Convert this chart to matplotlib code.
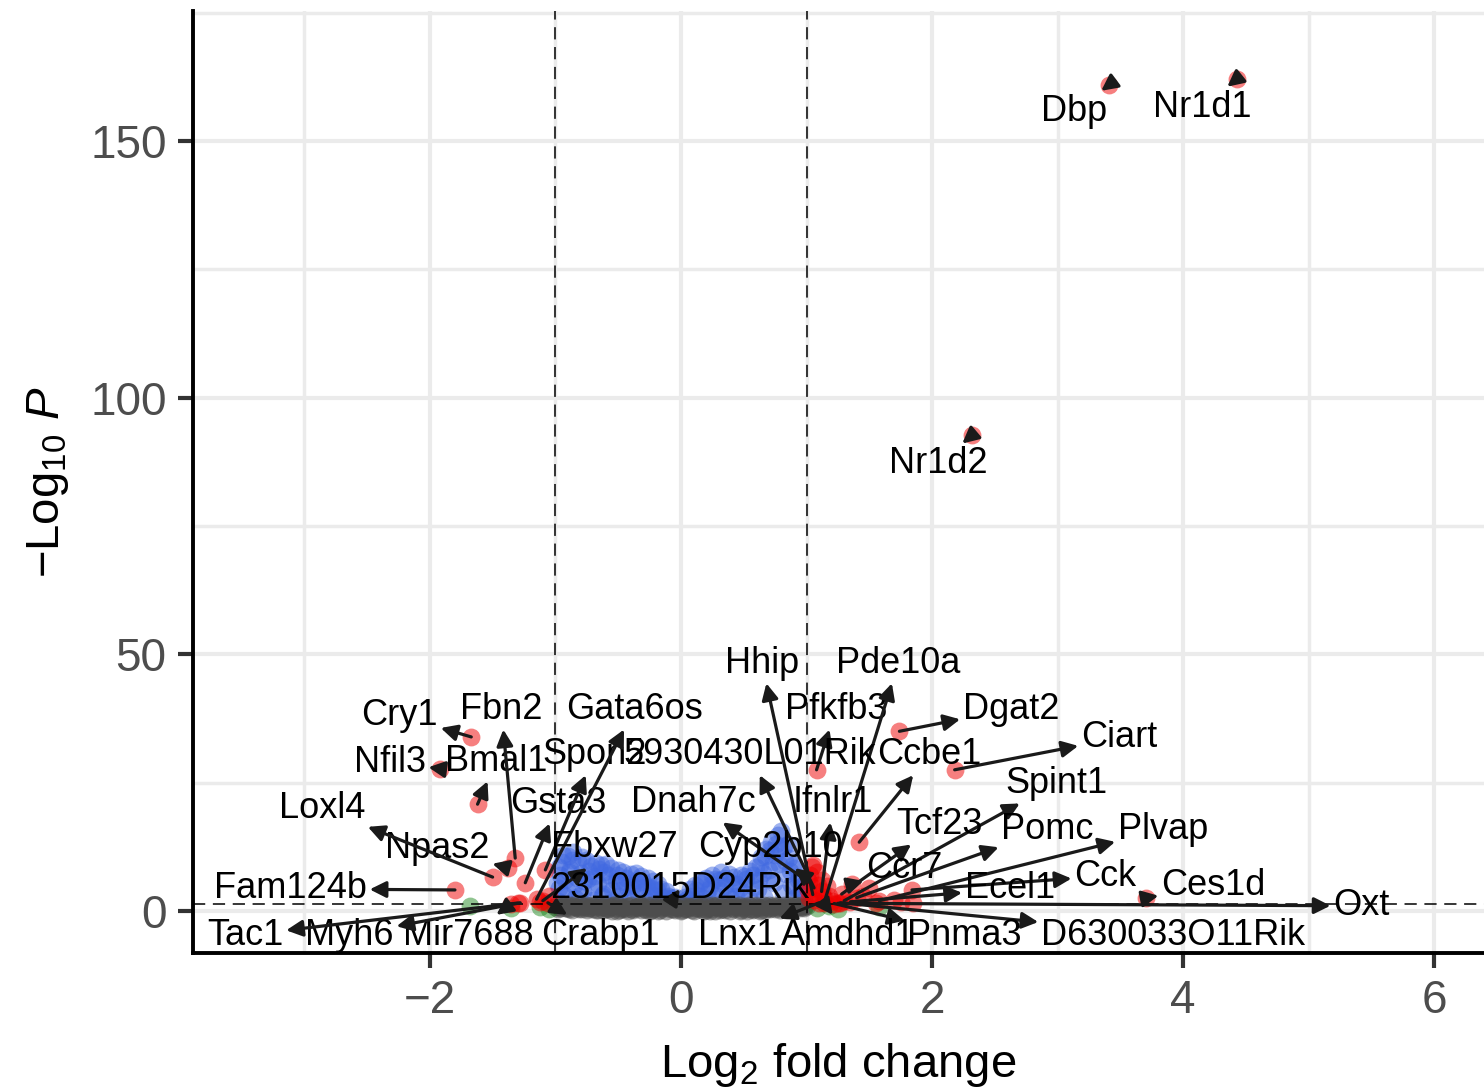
"""
Volcano plot: Log2 fold change vs -Log10 P (EnhancedVolcano style)
"""

import numpy as np
import matplotlib
matplotlib.use("Agg")
import matplotlib.pyplot as plt

plt.rcParams["font.family"] = ["Liberation Sans", "DejaVu Sans"]
plt.rcParams["mathtext.fontset"] = "custom"
plt.rcParams["mathtext.rm"] = "Liberation Sans"
plt.rcParams["mathtext.it"] = "Liberation Sans:italic"

FC_CUTOFF = 1.0
P_CUTOFF = 0.05

# labelled genes: log2 fold change and -log10 p
genes = ["Nr1d1", "Dbp", "Nr1d2", "Dgat2", "Cry1", "Ciart", "Pfkfb3", "Nfil3",
         "Bmal1", "Ccbe1", "Fbn2", "Npas2", "Loxl4", "Fam124b", "Gsta3", "Spon2",
         "Gata6os", "Fbxw27", "Crabp1", "Mir7688", "Myh6", "Tac1", "2310015D24Rik",
         "Hhip", "Pde10a", "5930430L01Rik", "Dnah7c", "Ifnlr1", "Cyp2b10", "Spint1",
         "Tcf23", "Ccr7", "Pomc", "Plvap", "Cck", "Ecel1", "Ces1d", "Oxt",
         "D630033O11Rik", "Pnma3", "Amdhd1", "Lnx1"]
gene_lfc = [4.43, 3.41, 2.32, 1.74, -1.67, 2.18, 1.08, -1.92,
            -1.62, 1.42, -1.32, -1.38, -1.50, -1.80, -1.24, -1.08,
            -1.15, -1.10, -1.06, -1.35, -1.30, -1.28, -0.05,
            1.05, 1.15, 1.06, 1.02, 1.12, 1.00, 1.30,
            1.28, 1.36, 1.40, 1.58, 1.84, 1.35, 3.70, 1.25,
            1.27, 1.22, 1.14, 1.10]
gene_p = [162.1, 160.9, 92.7, 35.0, 33.9, 27.5, 27.5, 27.7,
          20.8, 13.4, 10.3, 8.4, 6.6, 4.1, 5.5, 8.0,
          2.3, 2.0, 1.6, 1.4, 1.5, 1.6, 2.8,
          3.2, 2.4, 4.5, 5.6, 3.8, 6.5, 2.0,
          3.3, 5.2, 2.6, 2.0, 4.1, 1.8, 2.5, 1.5,
          1.6, 1.45, 1.5, 1.6]

# label placement (data coordinates), as laid out by the repel step
label_pos = {
    "Nr1d1": (4.15, 156.6), "Dbp": (3.13, 155.8), "Nr1d2": (2.05, 87.1),
    "Hhip": (0.645, 48.3), "Pde10a": (1.73, 48.3), "Pfkfb3": (1.235, 39.3),
    "Dgat2": (2.63, 39.3), "Ciart": (3.49, 33.7), "Ccbe1": (1.98, 30.4),
    "5930430L01Rik": (0.55, 30.4), "Spint1": (2.99, 24.9), "Ifnlr1": (1.21, 21.2),
    "Dnah7c": (0.10, 21.2), "Tcf23": (2.06, 16.9), "Pomc": (2.92, 15.8),
    "Plvap": (3.84, 15.8), "Cyp2b10": (0.71, 12.3), "Ccr7": (1.78, 8.2),
    "Cck": (3.38, 6.8), "Ecel1": (2.62, 4.3), "Ces1d": (4.24, 5.0),
    "Oxt": (5.42, 1.0), "D630033O11Rik": (3.92, -4.7), "Pnma3": (2.26, -4.7),
    "Amdhd1": (1.33, -4.7), "Lnx1": (0.45, -4.7), "Crabp1": (-0.645, -4.7),
    "Mir7688": (-1.69, -4.7), "Myh6": (-2.64, -4.7), "Tac1": (-3.47, -4.7),
    "Fam124b": (-3.11, 4.3), "2310015D24Rik": (-0.01, 4.3), "Fbxw27": (-0.53, 12.3),
    "Npas2": (-1.94, 12.1), "Loxl4": (-2.86, 20.0), "Gsta3": (-0.98, 21.0),
    "Nfil3": (-2.32, 29.0), "Bmal1": (-1.47, 29.2), "Spon2": (-0.69, 30.4),
    "Cry1": (-2.24, 38.0), "Fbn2": (-1.43, 39.3), "Gata6os": (-0.37, 39.3),
}

# unlabelled genes, not significant (grey band)
grey_lfc = [
    -1.00, -0.98, -0.95, -0.92, -0.90, -0.87, -0.85, -0.82, -0.80, -0.77, -0.75,
    -0.72, -0.70, -0.67, -0.65, -0.62, -0.60, -0.57, -0.55, -0.52, -0.50, -0.47,
    -0.45, -0.42, -0.40, -0.37, -0.35, -0.32, -0.30, -0.27, -0.25, -0.22, -0.20,
    -0.17, -0.15, -0.12, -0.10, -0.07, -0.05, -0.02, 0.00, 0.02, 0.05, 0.07,
    0.10, 0.12, 0.15, 0.17, 0.20, 0.22, 0.25, 0.27, 0.30, 0.32, 0.35, 0.37,
    0.40, 0.42, 0.45, 0.47, 0.50, 0.52, 0.55, 0.57, 0.60, 0.62, 0.65, 0.67,
    0.70, 0.72, 0.75, 0.77, 0.80, 0.82, 0.85, 0.87, 0.90, 0.92, 0.95, 0.97, 1.00,
    -0.99, -0.96, -0.93, -0.89, -0.86, -0.83, -0.79, -0.76, -0.73, -0.69,
    -0.66, -0.63, -0.59, -0.56, -0.53, -0.49, -0.46, -0.43, -0.39, -0.36,
    -0.33, -0.29, -0.26, -0.23, -0.19, -0.16, -0.13, -0.09, -0.06, -0.03,
    0.01, 0.04, 0.08, 0.11, 0.14, 0.18, 0.21, 0.24, 0.28, 0.31,
    0.34, 0.38, 0.41, 0.44, 0.48, 0.51, 0.54, 0.58, 0.61, 0.64,
    0.68, 0.71, 0.74, 0.78, 0.81, 0.84, 0.88, 0.91, 0.94, 0.98,
    -0.97, -0.94, -0.91, -0.88, -0.84, -0.81, -0.78, -0.74, -0.71, -0.68,
    -0.64, -0.61, -0.58, -0.54, -0.51, -0.48, -0.44, -0.41, -0.38, -0.34,
    -0.31, -0.28, -0.24, -0.21, -0.18, -0.14, -0.11, -0.08, -0.04, -0.01,
    0.03, 0.06, 0.09, 0.13, 0.16, 0.19, 0.23, 0.26, 0.29, 0.33,
    0.36, 0.39, 0.43, 0.46, 0.49, 0.53, 0.56, 0.59, 0.63, 0.66,
    0.69, 0.73, 0.76, 0.79, 0.83, 0.86, 0.89, 0.93, 0.96, 0.99,
]
grey_p = [
    0.8, 0.3, 1.2, 0.6, 0.9, 0.2, 1.0, 0.5, 1.2, 0.7, 0.1,
    1.0, 0.4, 0.8, 1.2, 0.2, 0.6, 1.0, 0.0, 0.5, 1.1, 0.3,
    0.8, 0.0, 1.2, 0.5, 0.9, 0.1, 0.7, 1.1, 0.0, 0.4, 0.9,
    0.2, 1.2, 0.0, 0.6, 1.0, 0.1, 0.5, 0.0, 1.1, 0.3, 0.8,
    0.0, 1.2, 0.4, 0.9, 0.1, 0.6, 1.1, 0.0, 0.5, 1.0, 0.2, 0.8,
    1.2, 0.3, 0.7, 0.0, 1.0, 0.4, 0.9, 0.1, 1.2, 0.5, 0.8, 0.2,
    1.1, 0.6, 0.3, 1.0, 0.7, 1.2, 0.4, 0.9, 0.6, 1.1, 0.5, 0.8, 1.0,
    1.1, 0.5, 0.9, 0.4, 1.2, 0.7, 0.3, 1.1, 0.6, 0.9,
    0.2, 1.0, 0.4, 0.8, 1.2, 0.2, 0.6, 1.0, 0.3, 0.7,
    1.2, 0.4, 0.8, 0.1, 1.0, 0.5, 0.7, 1.1, 0.3, 0.8,
    0.2, 0.6, 1.0, 0.5, 0.8, 0.0, 1.1, 0.3, 0.8, 0.2,
    0.6, 1.0, 0.5, 0.9, 0.2, 0.7, 1.2, 0.3, 0.8, 0.1,
    0.9, 0.4, 1.2, 0.5, 0.9, 0.2, 0.7, 1.0, 0.8, 0.6,
    0.7, 1.0, 0.5, 1.2, 0.8, 0.3, 0.9, 0.6, 1.2, 0.2,
    0.7, 0.9, 0.3, 1.1, 0.0, 0.8, 0.4, 1.0, 0.1, 0.6,
    0.9, 0.2, 1.2, 0.5, 0.0, 0.8, 1.1, 0.3, 0.7, 1.2,
    0.4, 0.9, 0.2, 0.6, 1.2, 0.4, 0.0, 0.9, 1.2, 0.4,
    1.1, 0.0, 0.7, 1.1, 0.5, 0.0, 0.4, 1.0, 0.0, 1.1,
    0.5, 0.8, 1.0, 0.2, 0.6, 1.1, 0.4, 0.8, 1.2, 0.9,
]

# unlabelled genes, significant p but small fold change
blue_lfc = [
    -0.98, -0.97, -0.96, -0.95, -0.93, -0.92, -0.90, -0.88, -0.86, -0.85, -0.84,
    -0.82, -0.80, -0.78, -0.76, -0.74, -0.72, -0.70, -0.68, -0.66, -0.64, -0.62,
    -0.60, -0.58, -0.56, -0.54, -0.52, -0.50, -0.48, -0.46, -0.44, -0.42, -0.40,
    -0.38, -0.36, -0.34, -0.32, -0.30, -0.28, -0.26, -0.24, -0.22, -0.20, -0.18,
    -0.16, -0.14, -0.12, -0.10, -0.08, -0.05, -0.02,
    0.02, 0.05, 0.08, 0.10, 0.12, 0.15, 0.18, 0.20, 0.22, 0.25, 0.28, 0.30,
    0.32, 0.35, 0.38, 0.40, 0.42, 0.45, 0.48, 0.50, 0.52, 0.55, 0.58, 0.60,
    0.62, 0.64, 0.66, 0.68, 0.70, 0.72, 0.74, 0.75, 0.77, 0.78, 0.80, 0.81,
    0.82, 0.84, 0.86, 0.88, 0.90, 0.92, 0.94, 0.96, 0.98,
    -0.99, -0.97, -0.94, -0.91, -0.89, -0.87, -0.83, -0.81, -0.79, -0.77,
    -0.73, -0.71, -0.69, -0.65, -0.63, -0.61, -0.57, -0.55, -0.51, -0.49,
    -0.45, -0.43, -0.39, -0.35, -0.31, -0.27, -0.23, -0.19, -0.15, -0.11, -0.07,
    0.03, 0.07, 0.11, 0.14, 0.17, 0.21, 0.24, 0.27, 0.31, 0.34,
    0.37, 0.41, 0.44, 0.47, 0.51, 0.54, 0.57, 0.61, 0.63, 0.65,
    0.67, 0.69, 0.71, 0.73, 0.76, 0.79, 0.83, 0.85, 0.87, 0.89,
    0.91, 0.93, 0.95, 0.97,
]
blue_p = [
    2.0, 4.5, 7.0, 9.5, 3.2, 6.0, 10.8, 8.2, 11.4, 5.0, 2.5,
    9.8, 7.4, 3.8, 10.0, 6.2, 8.8, 2.2, 9.4, 5.2, 8.9, 3.4,
    9.2, 7.0, 8.4, 2.0, 5.8, 8.0, 4.0, 7.6, 6.5, 2.6, 7.2,
    5.0, 7.4, 3.5, 6.8, 5.6, 2.2, 6.4, 4.4, 5.8, 3.0, 5.2,
    4.2, 2.0, 3.8, 3.0, 2.6, 2.0, 1.7,
    1.8, 2.4, 3.0, 1.9, 4.0, 5.5, 2.6, 6.4, 4.2, 7.0, 3.0, 6.0,
    7.6, 4.8, 7.2, 2.4, 6.6, 5.2, 7.0, 3.6, 6.2, 7.8, 4.6, 8.6,
    6.0, 10.5, 2.8, 12.0, 8.0, 13.5, 5.5, 11.0, 14.8, 9.2, 15.6, 3.6,
    12.6, 7.2, 10.4, 5.0, 8.4, 2.8, 6.6, 4.2, 2.2,
    5.5, 8.5, 11.0, 4.0, 7.5, 10.0, 6.5, 3.0, 10.5, 5.8,
    7.8, 4.6, 6.8, 8.2, 3.0, 7.6, 5.2, 4.0, 7.0, 3.0,
    5.6, 4.6, 4.2, 6.0, 4.4, 4.8, 3.2, 4.0, 2.8, 2.6, 2.0,
    2.8, 4.2, 5.0, 3.0, 6.0, 3.4, 5.2, 6.2, 4.0, 6.4,
    3.2, 5.4, 3.0, 4.4, 6.8, 2.6, 7.0, 4.2, 9.0, 7.4,
    10.8, 6.0, 11.8, 9.6, 13.0, 12.2, 9.8, 13.0, 7.8, 9.0,
    4.4, 6.0, 3.2, 5.0,
]

# unlabelled genes with large fold change
wide_lfc = [-1.05, -1.12, 1.02, 1.08, 1.04, 1.12, 1.18, 1.45, 1.50, 1.55, 1.75,
            1.85, 1.70, 1.01, 1.03, 1.06, 1.09, 1.13, 1.16, 1.20, 1.05,
            -1.68, -1.35, -1.12, -1.05, 1.08, 1.18, 1.58, 1.25]
wide_p = [3.0, 1.8, 2.5, 7.5, 8.5, 6.0, 3.0, 3.0, 4.5, 1.5, 1.8,
          1.6, 2.2, 4.0, 7.0, 2.2, 5.0, 2.8, 4.8, 2.0, 9.0,
          0.9, 0.6, 0.7, 0.4, 0.5, 0.9, 0.8, 0.3]

lfc = np.array(blue_lfc + grey_lfc + wide_lfc + gene_lfc)
nlp = np.array(blue_p + grey_p + wide_p + gene_p)
p_line = -np.log10(P_CUTOFF)
big_fc = np.abs(lfc) > FC_CUTOFF
sig_p = nlp > p_line

groups = [
    (~big_fc & sig_p, "royalblue"),
    (~big_fc & ~sig_p, "#4D4D4D"),
    (big_fc & ~sig_p, "forestgreen"),
    (big_fc & sig_p, "#EE0000"),
]

fig = plt.figure(figsize=(14.84, 10.89), dpi=100)
ax = fig.add_axes([0.130, 0.1249, 0.870, 0.865])

for mask, col in groups:
    ax.scatter(lfc[mask], nlp[mask], s=165, c=col, alpha=0.5, linewidths=0, zorder=2)

ax.axvline(-FC_CUTOFF, color="black", lw=1.1, ls=(0, (8, 5)), zorder=3)
ax.axvline(FC_CUTOFF, color="black", lw=1.1, ls=(0, (8, 5)), zorder=3)
ax.axhline(p_line, color="black", lw=1.1, ls=(0, (8, 5)), zorder=3)

for g, x, y in zip(genes, gene_lfc, gene_p):
    lx, ly = label_pos[g]
    ax.annotate(g, xy=(x, y), xytext=(lx, ly), ha="center", va="center",
                fontsize=26, color="black", zorder=5,
                arrowprops=dict(arrowstyle="<|-,head_length=0.7,head_width=0.35",
                                color="#1A1A1A", lw=2.3, shrinkA=0, shrinkB=0,
                                mutation_scale=14))

ax.set_xlim(-3.887, 6.396)
ax.set_ylim(-8.18, 175.3)
ax.set_xticks([-2, 0, 2, 4, 6])
ax.set_xticks([-3, -1, 1, 3, 5], minor=True)
ax.set_yticks([0, 50, 100, 150])
ax.set_yticks([25, 75, 125, 175], minor=True)
ax.grid(which="major", color="#EBEBEB", lw=3.0, zorder=0)
ax.grid(which="minor", color="#EBEBEB", lw=2.5, zorder=0)
ax.set_axisbelow(True)

for side in ["top", "right"]:
    ax.spines[side].set_visible(False)
for side in ["left", "bottom"]:
    ax.spines[side].set_linewidth(2.8)
    ax.spines[side].set_color("black")

ax.tick_params(which="major", length=11, width=3.0, color="#333333",
               labelsize=33, labelcolor="#4D4D4D", pad=8)
ax.tick_params(which="minor", length=0)

ax.set_xlabel(r"$\mathrm{Log}_{2}$ fold change", fontsize=34, labelpad=13)
ax.set_ylabel(r"$-\mathrm{Log}_{10}\ \mathit{P}$", fontsize=34, labelpad=14)

plt.savefig("out.png", dpi=100)
plt.close()
